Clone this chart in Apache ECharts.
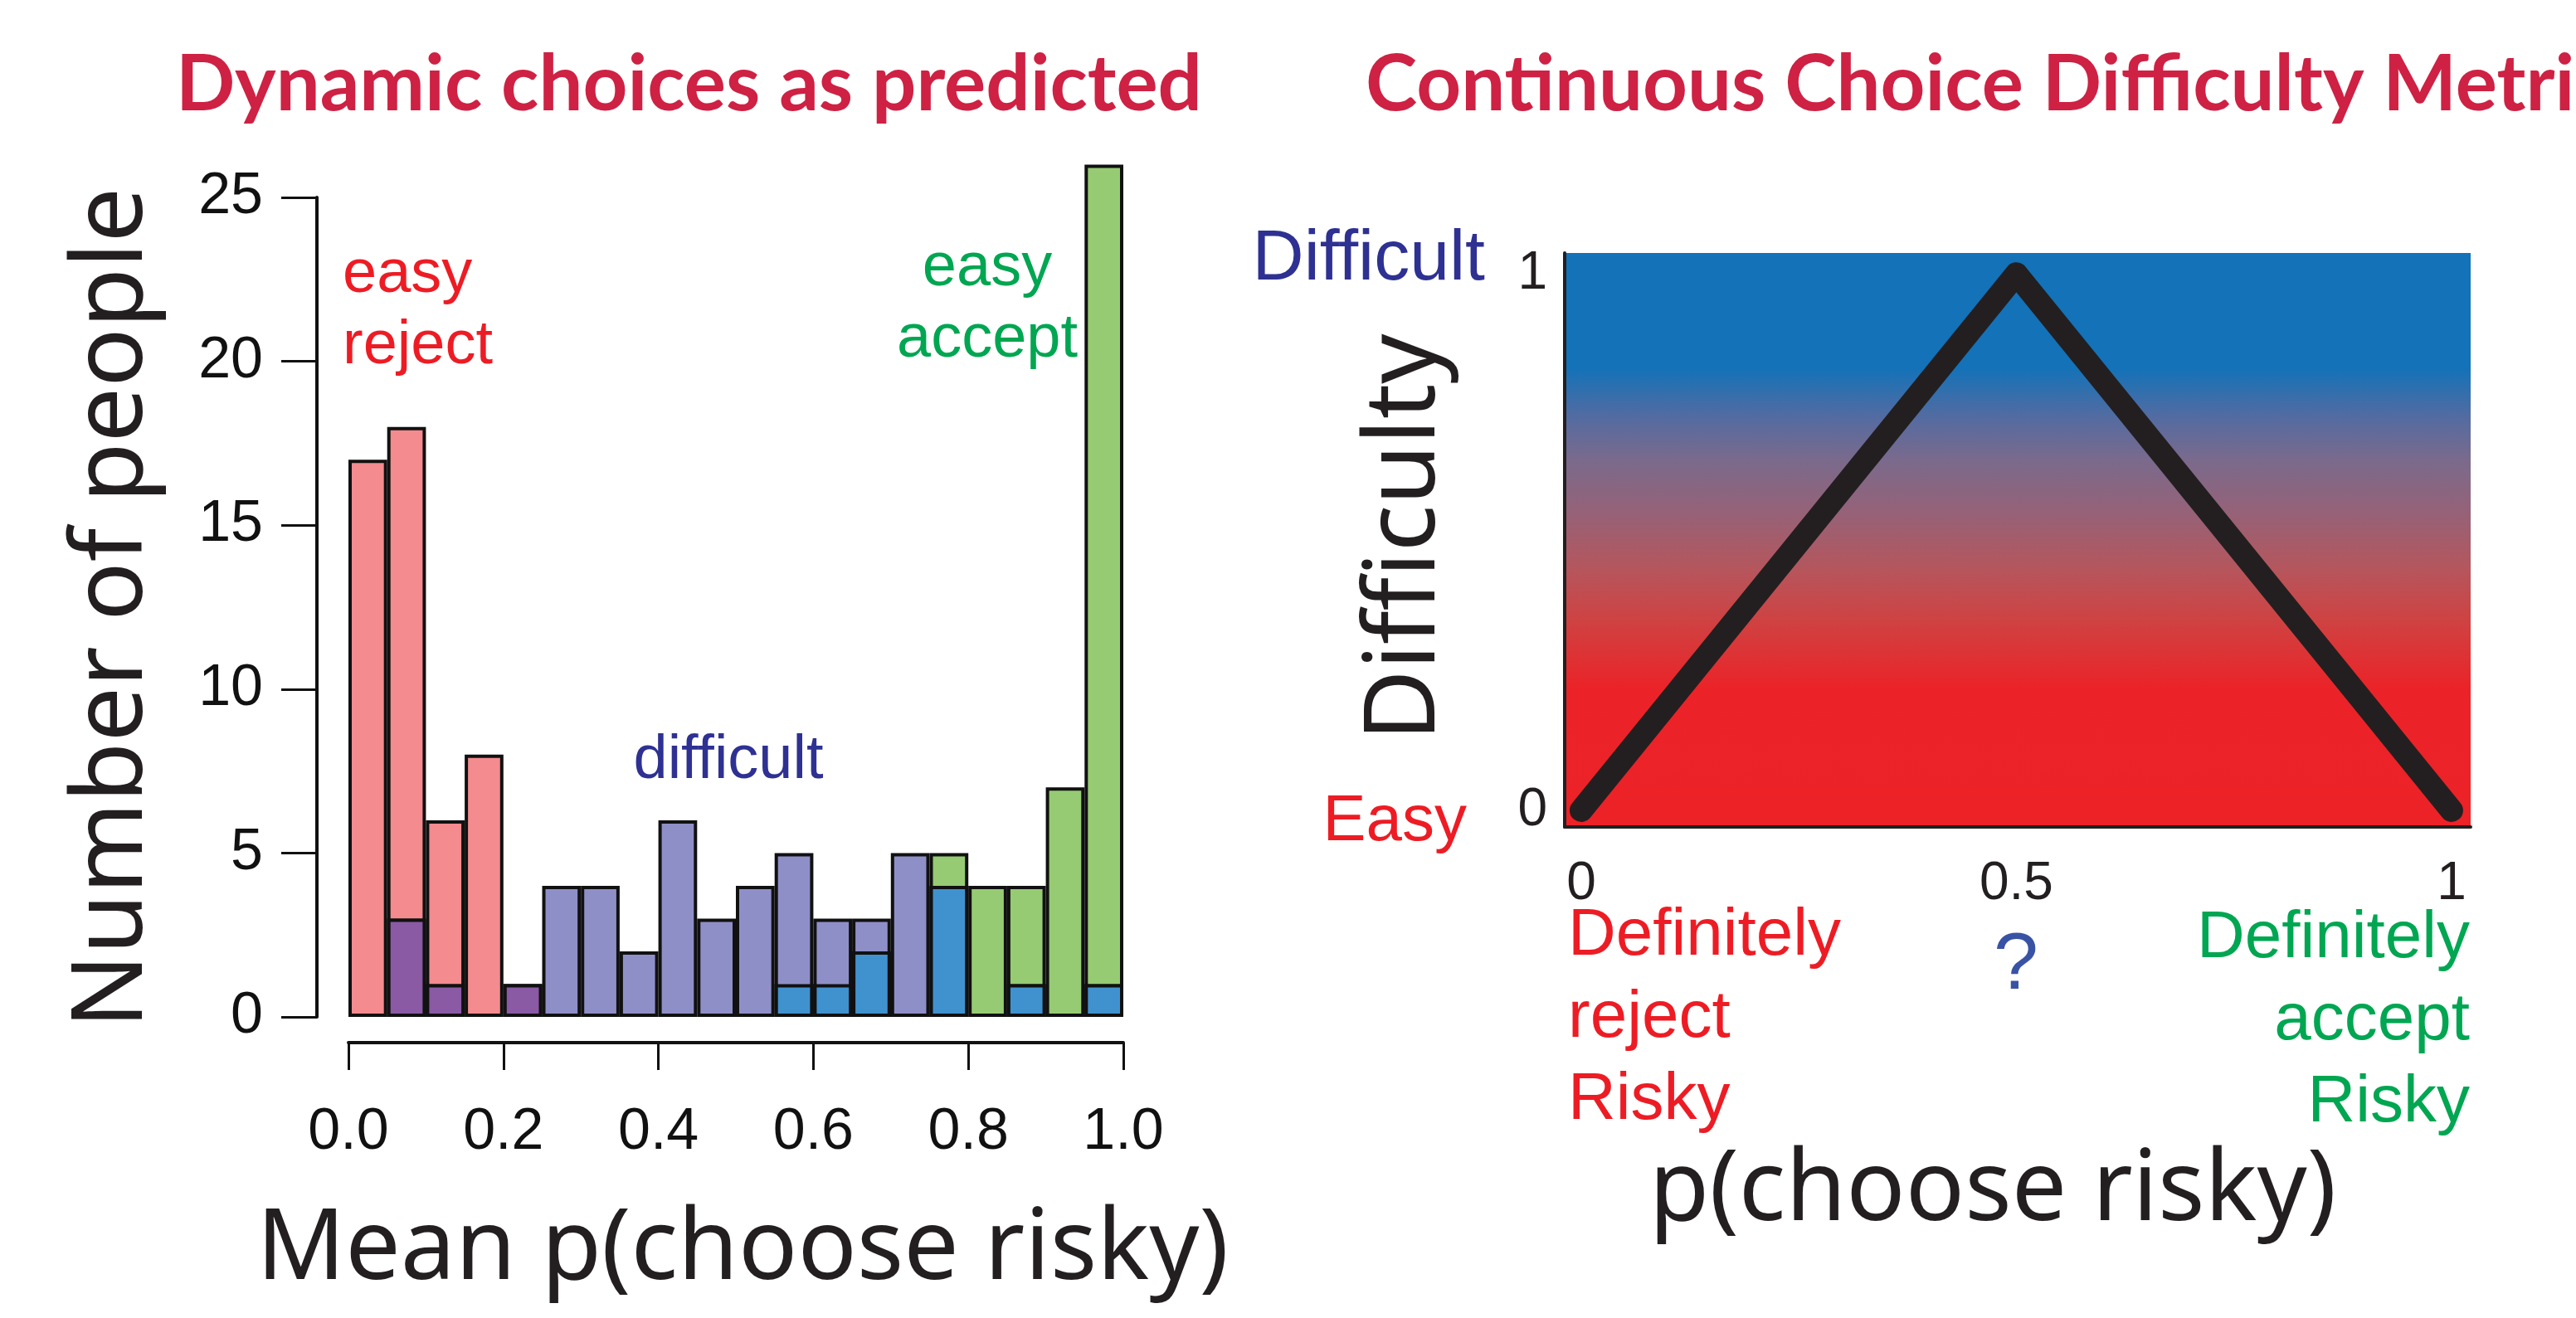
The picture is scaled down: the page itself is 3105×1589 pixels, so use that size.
<!DOCTYPE html>
<html>
<head>
<meta charset="utf-8">
<script src="https://cdn.jsdelivr.net/npm/echarts@6/dist/echarts.min.js"></script>
<style>
  html, body { margin: 0; padding: 0; background: #fff; }
  #chart { width: 3105px; height: 1589px; }
</style>
</head>
<body>
<div id="chart"></div>
<script>
// histogram bins of width 0.05
var bins = ['0.00', '0.05', '0.10', '0.15', '0.20', '0.25', '0.30', '0.35', '0.40', '0.45',
            '0.50', '0.55', '0.60', '0.65', '0.70', '0.75', '0.80', '0.85', '0.90', '0.95'];
var easyReject = [17, 18, 6, 8, 1, 0, 0, 0, 0, 0, 0, 0, 0, 0, 0, 0, 0, 0, 0, 0];
var difficult  = [0, 3, 1, 0, 1, 4, 4, 2, 6, 3, 4, 5, 3, 3, 5, 4, 0, 1, 0, 1];
var easyAccept = [0, 0, 0, 0, 0, 0, 0, 0, 0, 0, 0, 1, 1, 2, 0, 5, 4, 4, 7, 26];

var histXTicks = [0, 0.2, 0.4, 0.6, 0.8, 1];
var histXLabels = ['0.0', '0.2', '0.4', '0.6', '0.8', '1.0'];

// difficulty metric (triangle)
var metricX = [0, 0.5, 1];
var metricY = [0, 1, 0];
var metricXTicks = [0, 0.5, 1];
var metricXLabels = ['0', '0.5', '1'];
var metricYTicks = [0, 1];
var metricYLabels = ['0', '1'];

var helv = '"Liberation Sans", Arial, sans-serif';
var avenir = '"Noto Sans", sans-serif';
var titleRed = '#ce2143';
var ink = '#231f20';

// overlaps of the semi-transparent histograms
var rejectDifficult = easyReject.map(function (r, i) { return Math.min(r, difficult[i]); });
var difficultAccept = difficult.map(function (d, i) { return Math.min(d, easyAccept[i]); });

function bars(arr) {
    return arr.map(function (v) { return v > 0 ? v : '-'; });
}

function histSeries(name, data, color) {
    return {
        name: name,
        type: 'bar',
        xAxisIndex: 0,
        yAxisIndex: 0,
        data: bars(data),
        barGap: '-100%',
        barCategoryGap: '0%',
        clip: false,
        itemStyle: { color: color, borderColor: '#111', borderWidth: 4 },
        emphasis: { disabled: true }
    };
}

function label(text, x, y, opts) {
    return {
        type: 'text',
        x: x,
        y: y,
        rotation: opts.rotation || 0,
        style: {
            text: text,
            fill: opts.color,
            fontSize: opts.size,
            fontFamily: opts.family || helv,
            fontWeight: opts.weight || 'normal',
            align: opts.align || 'center',
            verticalAlign: 'middle',
            lineHeight: opts.lineHeight
        }
    };
}

var chart = echarts.init(document.getElementById('chart'));

var option = {
    backgroundColor: '#fff',
    animation: false,
    grid: [
        { left: 420, right: 1751, top: 238, bottom: 363, outerBoundsMode: 'none' },
        {
            left: 1886, right: 127, top: 305, bottom: 592, outerBoundsMode: 'none',
            show: true, borderWidth: 0,
            backgroundColor: {
                type: 'linear', x: 0, y: 0, x2: 0, y2: 1,
                colorStops: [
                    { offset: 0, color: '#1372b8' },
                    { offset: 0.2, color: '#1372b8' },
                    { offset: 0.29, color: '#566ba0' },
                    { offset: 0.36, color: '#7a6a8c' },
                    { offset: 0.45, color: '#956278' },
                    { offset: 0.55, color: '#b5565d' },
                    { offset: 0.64, color: '#cf4242' },
                    { offset: 0.76, color: '#eb2328' },
                    { offset: 1, color: '#ec2227' }
                ]
            }
        }
    ],
    xAxis: [
        { type: 'category', gridIndex: 0, data: bins, show: false },
        {
            type: 'value', gridIndex: 0, min: 0, max: 1, position: 'bottom', offset: 31,
            axisLine: { onZero: false, lineStyle: { color: '#111', width: 4 } },
            axisTick: { length: 33, lineStyle: { color: '#111', width: 3 }, customValues: histXTicks },
            axisLabel: {
                customValues: histXTicks, margin: 74, fontSize: 70, fontFamily: helv, color: '#111',
                formatter: function (v) { return histXLabels[histXTicks.indexOf(v)]; }
            },
            splitLine: { show: false }
        },
        {
            type: 'value', gridIndex: 1, min: -0.019, max: 1.022, position: 'bottom',
            axisLine: { onZero: false, lineStyle: { color: ink, width: 4 } },
            axisTick: { show: false },
            axisLabel: {
                customValues: metricXTicks, margin: 37, fontSize: 64, fontFamily: helv, color: ink,
                formatter: function (v) { return metricXLabels[metricXTicks.indexOf(v)]; }
            },
            splitLine: { show: false }
        }
    ],
    yAxis: [
        {
            type: 'value', gridIndex: 0, min: 0, max: 25, interval: 5, offset: 38,
            axisLine: { show: true, onZero: false, lineStyle: { color: '#111', width: 4 } },
            axisTick: { show: true, length: 43, lineStyle: { color: '#111', width: 3 } },
            axisLabel: { margin: 65, fontSize: 70, fontFamily: helv, color: '#111' },
            splitLine: { show: false }
        },
        {
            type: 'value', gridIndex: 1, min: -0.031, max: 1.039,
            axisLine: { show: true, onZero: false, lineStyle: { color: ink, width: 4 } },
            axisTick: { show: false },
            axisLabel: {
                customValues: metricYTicks, margin: 21, fontSize: 64, fontFamily: helv, color: ink,
                formatter: function (v) { return metricYLabels[metricYTicks.indexOf(v)]; }
            },
            splitLine: { show: false }
        }
    ],
    series: [
        histSeries('easy reject', easyReject, '#f38b8f'),
        histSeries('easy accept', easyAccept, '#96cb73'),
        histSeries('difficult', difficult, '#8f8fc8'),
        histSeries('reject & difficult', rejectDifficult, '#8a5aa5'),
        histSeries('difficult & accept', difficultAccept, '#4092cf'),
        {
            name: 'difficulty',
            type: 'line',
            xAxisIndex: 2,
            yAxisIndex: 1,
            data: metricX.map(function (x, i) { return [x, metricY[i]]; }),
            symbol: 'none',
            lineStyle: { color: ink, width: 28, cap: 'round', join: 'round' },
            emphasis: { disabled: true }
        }
    ],
    graphic: [
        label('Dynamic choices as predicted', 212, 103, { color: titleRed, size: 94, family: 'Lato', weight: 'bold', align: 'left' }),
        label('Continuous Choice Difficulty Metric', 1646, 103, { color: titleRed, size: 94, family: 'Lato', weight: 'bold', align: 'left' }),
        label('Number of people', 137, 733, { color: ink, size: 118, family: avenir, rotation: Math.PI / 2 }),
        label('Mean p(choose risky)', 895, 1508, { color: ink, size: 118, family: avenir }),
        label('easy\nreject', 413, 375, { color: '#ed1c24', size: 74, align: 'left', lineHeight: 86 }),
        label('easy\naccept', 1190, 367, { color: '#00a651', size: 74, lineHeight: 86 }),
        label('difficult', 878, 918, { color: '#2e3192', size: 74 }),
        label('Difficult', 1790, 313, { color: '#2e3192', size: 86, align: 'right' }),
        label('Easy', 1768, 991, { color: '#ed1c24', size: 78, align: 'right' }),
        label('Difficulty', 1695, 648, { color: ink, size: 118, family: avenir, rotation: Math.PI / 2 }),
        label('Definitely\nreject\nRisky', 1890, 1228, { color: '#ed1c24', size: 80, align: 'left', lineHeight: 99 }),
        label('?', 2430, 1165, { color: '#3953a4', size: 97 }),
        label('Definitely\naccept\nRisky', 2977, 1231, { color: '#00a651', size: 80, align: 'right', lineHeight: 99 }),
        label('p(choose risky)', 2402, 1437, { color: ink, size: 118, family: avenir })
    ]
};

chart.setOption(option);
</script>
</body>
</html>
